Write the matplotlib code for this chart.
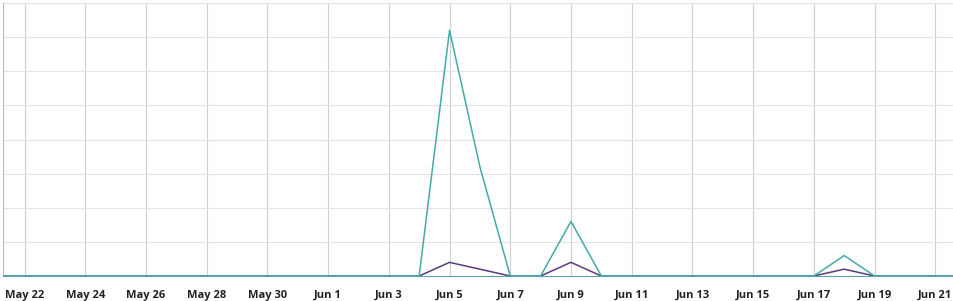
import matplotlib.pyplot as plt
import matplotlib.dates as mdates
import numpy as np
import pandas as pd

# daily values, May 21 .. Jun 22
dates = pd.date_range("2024-05-21", "2024-06-22", freq="D")
teal_vals = [0, 0, 0, 0, 0, 0, 0, 0, 0, 0, 0,          # May 21-31
             0, 0, 0, 0, 36, 16, 0, 0, 8, 0,            # Jun 1-10
             0, 0, 0, 0, 0, 0, 0, 3, 0, 0, 0, 0]        # Jun 11-22
purple_vals = [0, 0, 0, 0, 0, 0, 0, 0, 0, 0, 0,
               0, 0, 0, 0, 2, 1, 0, 0, 2, 0,
               0, 0, 0, 0, 0, 0, 0, 1, 0, 0, 0, 0]
tick_dates = pd.date_range("2024-05-22", "2024-06-21", freq="2D")

plt.rcParams['font.family'] = ['Open Sans', 'DejaVu Sans']

fig = plt.figure(figsize=(9.54, 3.01), dpi=100)
ax = fig.add_axes([3 / 954, 25 / 301, 950 / 954, 273 / 301])

ax.plot(dates, purple_vals, color='#5b3a80', lw=1.1, zorder=3)
ax.plot(dates, teal_vals, color='#45aaa8', lw=1.1, zorder=4)

ax.set_ylim(0, 40)
ax.set_yticks(np.arange(0, 41, 5))
ax.set_yticklabels([])
ax.set_xlim(pd.Timestamp("2024-05-21 07:00"), pd.Timestamp("2024-06-21 14:00"))
ax.set_xticks(tick_dates)
ax.xaxis.set_major_formatter(mdates.DateFormatter('%b %-d'))
ax.tick_params(axis='both', length=0, pad=10)
for lbl in ax.get_xticklabels():
    lbl.set_fontsize(8)
    lbl.set_fontweight('bold')
    lbl.set_color('#222222')

ax.grid(axis='y', color='#e3e3e3', lw=0.8)
ax.grid(axis='x', color='#cfcfcf', lw=0.8)
ax.set_axisbelow(True)
for s in ['top', 'right']:
    ax.spines[s].set_visible(False)
ax.spines['left'].set_color('#bbbbbb')
ax.spines['left'].set_linewidth(0.8)
ax.spines['bottom'].set_color('#5aa5a8')

fig.savefig('out.png', dpi=100)
